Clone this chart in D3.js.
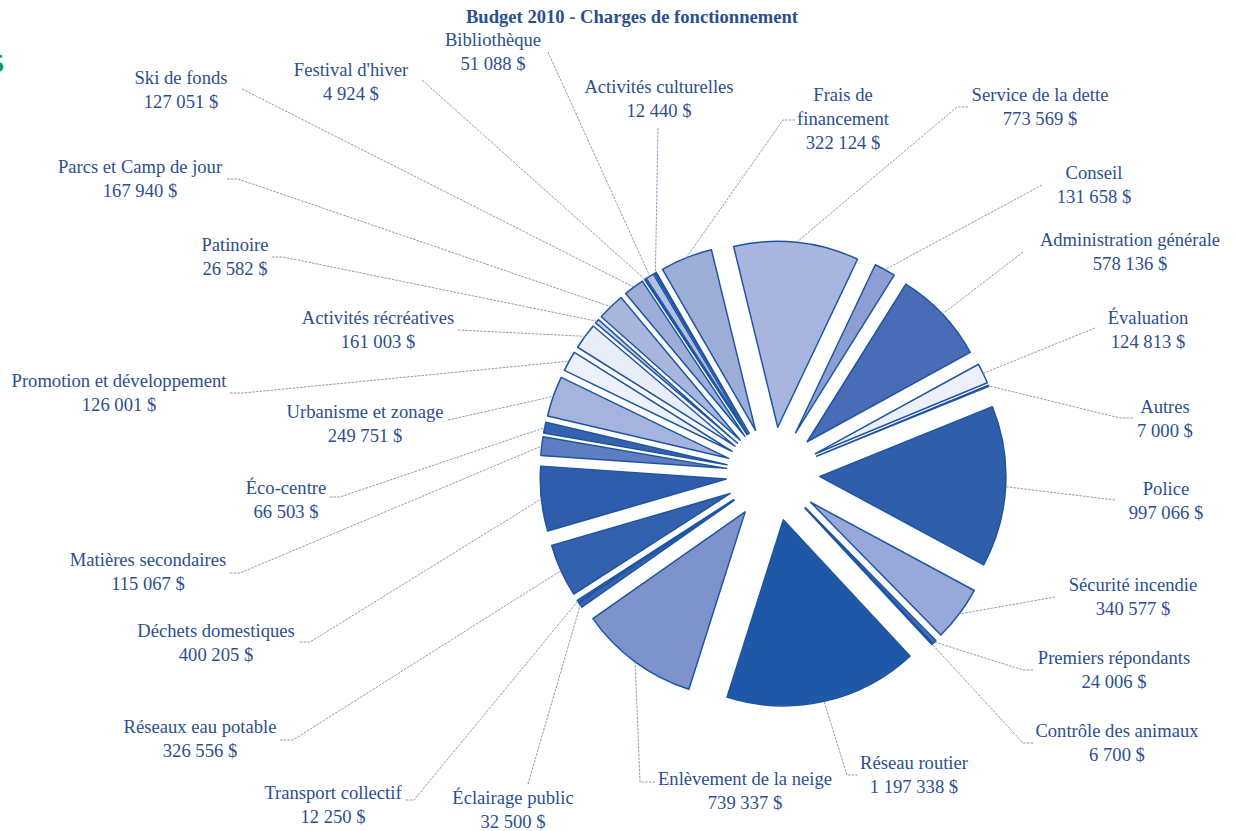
<!DOCTYPE html>
<html>
<head>
<meta charset="utf-8">
<script src="https://cdn.jsdelivr.net/npm/d3@7"></script>
<style>
  body { margin: 0; background: #fff; }
  text { font-family: "Liberation Serif", "Times New Roman", serif; fill: #2c4f91; }
</style>
</head>
<body>
<svg id="chart" width="1236" height="831"></svg>
<script>
// data, clockwise from the slice just left of 12 o'clock
var categories = [
  "Frais de financement", "Service de la dette", "Conseil", "Administration générale",
  "Évaluation", "Autres", "Police", "Sécurité incendie", "Premiers répondants",
  "Contrôle des animaux", "Réseau routier", "Enlèvement de la neige", "Éclairage public",
  "Transport collectif", "Réseaux eau potable", "Déchets domestiques", "Matières secondaires",
  "Éco-centre", "Urbanisme et zonage", "Promotion et développement", "Activités récréatives",
  "Patinoire", "Parcs et Camp de jour", "Ski de fonds", "Festival d'hiver", "Bibliothèque",
  "Activités culturelles"
];
var amounts = [
  322124, 773569, 131658, 578136,
  124813, 7000, 997066, 340577, 24006,
  6700, 1197338, 739337, 32500,
  12250, 326556, 400205, 115067,
  66503, 249751, 126001, 161003,
  26582, 167940, 127051, 4924, 51088,
  12440
];
var title = "Budget 2010 - Charges de fonctionnement";

// styles
var fills = [
  "#9eacd8", "#a8b5de", "#8c9ed3", "#4a6bb5",
  "#edf0f9", "#8fa2d4", "#2f5eab", "#98a8d8", "#4f70b9",
  "#2a5aa8", "#1f58a6", "#7e93cc", "#3a63b0",
  "#5c7cc0", "#3461ae", "#2f5dab", "#5f7dc1",
  "#3663af", "#a6b3dd", "#eef1f9", "#e9edf8",
  "#c9d2ec", "#a9b6de", "#9eacd8", "#2e5ead", "#b3bfe3",
  "#2e5ead"
];

// label layout: [centre x, first line y, leader start x, leader start y, tick end x (or null), words on first line]
var labelLayout = [
  [843, 95, 783, 120, 795, 2],
  [1040, 95, 957, 107, 968, null],
  [1094, 173, 1042, 185, null, null],
  [1130, 240, 1023, 252, null, null],
  [1148, 318, 1095, 328, null, null],
  [1165, 407, 1120, 418, 1133, null],
  [1166, 489, 1115, 500, null, null],
  [1133, 585, 1055, 597, null, null],
  [1114, 658, 1023, 670, 1033, null],
  [1117, 731, 1023, 743, 1033, null],
  [914, 763, 847, 775, 858, null],
  [745, 779, 640, 782, 655, null],
  [513, 798, 528, 784, null, null],
  [333, 793, 414, 800, 406, null],
  [200, 727, 293, 740, 280, null],
  [216, 631, 310, 642, 300, null],
  [148, 560, 240, 573, 230, null],
  [286, 488, 340, 497, 330, null],
  [365, 412, 448, 420, null, null],
  [119, 381, 243, 393, 230, null],
  [378, 318, 458, 330, null, null],
  [235, 245, 283, 257, 272, null],
  [140, 167, 238, 179, 227, null],
  [181, 78, 242, 89, null, null],
  [351, 70, 422, 80, null, null],
  [493, 40, 548, 52, null, null],
  [659, 87, 658, 128, null, null]
];

var svg = d3.select("#chart");
var cx = 773, cy = 474, radius = 186, explode = 47;
var deg = Math.PI / 180;

var money = d3.formatLocale({decimal: ",", thousands: " ", grouping: [3], currency: ["", ""]}).format(",");

var pie = d3.pie()
  .sort(null)
  .value(function(d) { return d; })
  .startAngle(-30 * deg)
  .endAngle(330 * deg);

var arc = d3.arc().innerRadius(0).outerRadius(radius);

var slices = pie(amounts);

var g = svg.append("g").attr("transform", "translate(" + cx + "," + cy + ")");

// leader lines first so slices sit over them
slices.forEach(function(s, i) {
  var mid = (s.startAngle + s.endAngle) / 2;
  var ox = cx + (explode + radius) * Math.sin(mid);
  var oy = cy - (explode + radius) * Math.cos(mid);
  var L = labelLayout[i];
  var pts = [];
  if (L[4] != null) pts.push([L[4], L[3]]);
  pts.push([L[2], L[3]]);
  pts.push([ox, oy]);
  svg.append("path")
    .attr("d", d3.line()(pts))
    .attr("fill", "none")
    .attr("stroke", "#8e98b9")
    .attr("stroke-width", 1)
    .attr("stroke-dasharray", "2.5,1.2");
});

g.selectAll("path.slice")
  .data(slices)
  .enter().append("path")
  .attr("class", "slice")
  .attr("transform", function(d) {
    var mid = (d.startAngle + d.endAngle) / 2;
    return "translate(" + (explode * Math.sin(mid)) + "," + (-explode * Math.cos(mid)) + ")";
  })
  .attr("d", arc)
  .attr("fill", function(d, i) { return fills[i]; })
  .attr("stroke", "#1e55a3")
  .attr("stroke-width", 1.5)
  .attr("stroke-linejoin", "round");

// labels
categories.forEach(function(name, i) {
  var L = labelLayout[i];
  var lines;
  if (L[5]) {
    var w = name.split(" ");
    lines = [w.slice(0, L[5]).join(" "), w.slice(L[5]).join(" ")];
  } else {
    lines = [name];
  }
  lines.push(money(amounts[i]) + " $");
  var t = svg.append("text")
    .attr("text-anchor", "middle")
    .style("font-size", "18.6px");
  lines.forEach(function(line, k) {
    t.append("tspan")
      .attr("x", L[0])
      .attr("y", L[1] + 6 + k * 24)
      .text(line);
  });
});

svg.append("text")
  .attr("x", 632)
  .attr("y", 23)
  .attr("text-anchor", "middle")
  .style("font-size", "18.6px")
  .style("font-weight", "bold")
  .text(title);

// green glyph clipped at the left edge
svg.append("text")
  .attr("x", -9)
  .attr("y", 72)
  .style("font-size", "26px")
  .style("font-weight", "bold")
  .style("fill", "#0a9a55")
  .text("5");
</script>
</body>
</html>
